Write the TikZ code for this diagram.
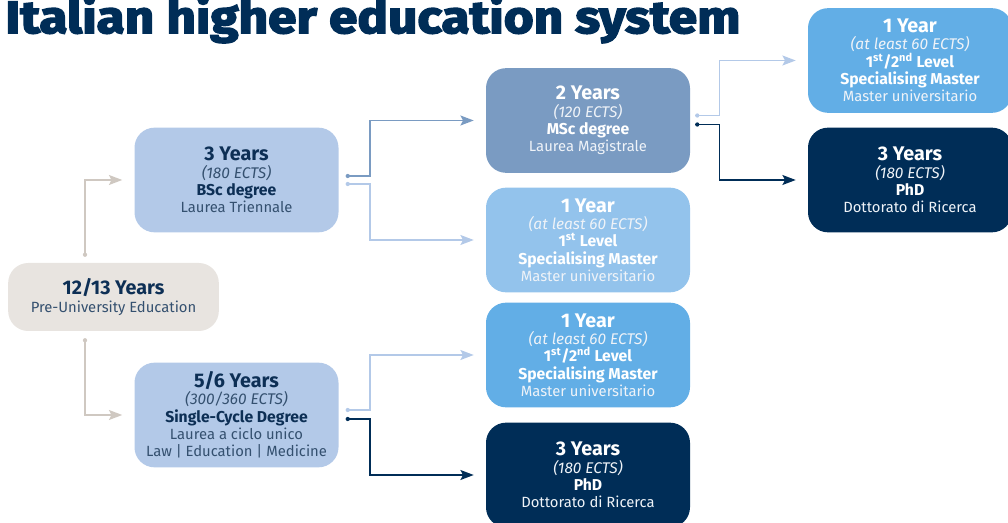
\documentclass[tikz,border=0pt]{standalone}
\usepackage{fontspec}
\setmainfont{Fira Sans}
\newfontfamily\titlefont{Fira Sans}[BoldFeatures={FakeBold=3.5,FakeStretch=1.13}]
\usetikzlibrary{arrows.meta,calc}

\definecolor{navy}{HTML}{002D57}
\definecolor{navytext}{HTML}{0D2F55}
\definecolor{softtext}{HTML}{34506F}
\definecolor{preback}{HTML}{E8E4E0}
\definecolor{preline}{HTML}{CFC8C1}
\definecolor{bscblue}{HTML}{B3C9E8}
\definecolor{mscblue}{HTML}{7A9BC2}
\definecolor{mlonecol}{HTML}{93C3EC}
\definecolor{mltwocol}{HTML}{62AEE6}

\newcommand{\yrs}[1]{{\fontsize{14.8}{13}\selectfont\bfseries #1}}
\newcommand{\ects}[1]{{\fontsize{11.6}{13}\selectfont\itshape #1}}
\newcommand{\dgr}[1]{{\fontsize{11.8}{13}\selectfont\bfseries #1}}
\newcommand{\lt}[1]{\textcolor{softtext}{#1}}
\newcommand{\dk}[1]{\textcolor{white!88!mscblue}{#1}}

\tikzset{
  box/.style={rounded corners=15pt, minimum width=153pt, minimum height=78.5pt,
    align=center, inner sep=0pt, font=\fontsize{11.1}{13}\selectfont},
  lightbox/.style={box, text=navytext},
  darkbox/.style={box, text=white},
  link/.style={line width=1.1pt, -{Stealth[inset=2pt,length=10pt,width=7.5pt]}},
}

\begin{document}
\begin{tikzpicture}[x=0.75pt,y=-0.75pt]
  \useasboundingbox (0,0) rectangle (1008,523);

  \node[anchor=base west, inner sep=0pt, text=navy,
    font=\titlefont\bfseries\fontsize{34}{34}\selectfont] (title) at (5,33)
    {Italian higher education system};

  % boxes
  \node[lightbox, fill=preback, minimum width=158pt, minimum height=51pt] (pre) at (113.5,297)
    {\yrs{12/13 Years}\\ \lt{Pre-University Education}};
  \node[lightbox, fill=bscblue] (bsc) at (236.5,180)
    {\yrs{3 Years}\\ \lt{\ects{(180 ECTS)}}\\ \dgr{BSc degree}\\ \lt{Laurea Triennale}};
  \node[lightbox, fill=bscblue] (single) at (236.5,415)
    {\yrs{5/6 Years}\\ \lt{\ects{(300/360 ECTS)}}\\ \dgr{Single-Cycle Degree}\\
     \lt{Laurea a ciclo unico}\\ \lt{Law | Education | Medicine}};
  \node[darkbox, fill=mscblue] (msc) at (588,120.5)
    {\yrs{2 Years}\\ \dk{\ects{(120 ECTS)}}\\ \dgr{MSc degree}\\ \dk{Laurea Magistrale}};
  \node[darkbox, fill=mlonecol] (mlone) at (588,240)
    {\yrs{1 Year}\\ \dk{\ects{(at least 60 ECTS)}}\\ \dgr{1\textsuperscript{st} Level}\\
     \dgr{Specialising Master}\\ \dk{Master universitario}};
  \node[darkbox, fill=mltwocol] (mltwo) at (588,355)
    {\yrs{1 Year}\\ \dk{\ects{(at least 60 ECTS)}}\\ \dgr{1\textsuperscript{st}/2\textsuperscript{nd} Level}\\
     \dgr{Specialising Master}\\ \dk{Master universitario}};
  \node[darkbox, fill=navy] (phdlow) at (588,475)
    {\yrs{3 Years}\\ \dk{\ects{(180 ECTS)}}\\ \dgr{PhD}\\ \dk{Dottorato di Ricerca}};
  \node[darkbox, fill=mltwocol] (mlup) at (910,60.5)
    {\yrs{1 Year}\\ \dk{\ects{(at least 60 ECTS)}}\\ \dgr{1\textsuperscript{st}/2\textsuperscript{nd} Level}\\
     \dgr{Specialising Master}\\ \dk{Master universitario}};
  \node[darkbox, fill=navy] (phdup) at (910,180)
    {\yrs{3 Years}\\ \dk{\ects{(180 ECTS)}}\\ \dgr{PhD}\\ \dk{Dottorato di Ricerca}};

  % start points
  \coordinate (preA) at ($(pre.north)+(-28.5,-8)$);
  \coordinate (preB) at ($(pre.south)+(-28.5,9)$);
  \coordinate (bscA) at ($(bsc.east)+(9,-4)$);
  \coordinate (bscB) at ($(bsc.east)+(9,4)$);
  \coordinate (mscA) at ($(msc.east)+(7,-5)$);
  \coordinate (mscB) at ($(msc.east)+(7,4)$);
  \coordinate (sglA) at ($(single.east)+(9,-5)$);
  \coordinate (sglB) at ($(single.east)+(9,4)$);

  % connectors
  \draw[link, preline] (preA) |- ([xshift=-9pt]bsc.west);
  \draw[link, preline] (preB) |- ([xshift=-9pt]single.west);
  \draw[link, mscblue] (bscA) -- ++(22,0) |- ([xshift=-9pt]msc.west);
  \draw[link, bscblue] (bscB) -- ++(22,0) |- ([xshift=-9pt]mlone.west);
  \draw[link, bscblue] (mscA) -- ++(22,0) |- ([xshift=-9pt]mlup.west);
  \draw[link, navy] (mscB) -- ++(22,0) |- ([xshift=-9pt]phdup.west);
  \draw[link, bscblue] (sglA) -- ++(22,0) |- ([xshift=-9pt]mltwo.west);
  \draw[link, navy] (sglB) -- ++(22,0) |- ([xshift=-9pt]phdlow.west);

  \foreach \p/\c in {preA/preline, preB/preline, bscA/mscblue, bscB/bscblue,
                     mscA/bscblue, mscB/navy, sglA/bscblue, sglB/navy}
    \fill[\c] (\p) circle (1.6pt);
\end{tikzpicture}
\end{document}
